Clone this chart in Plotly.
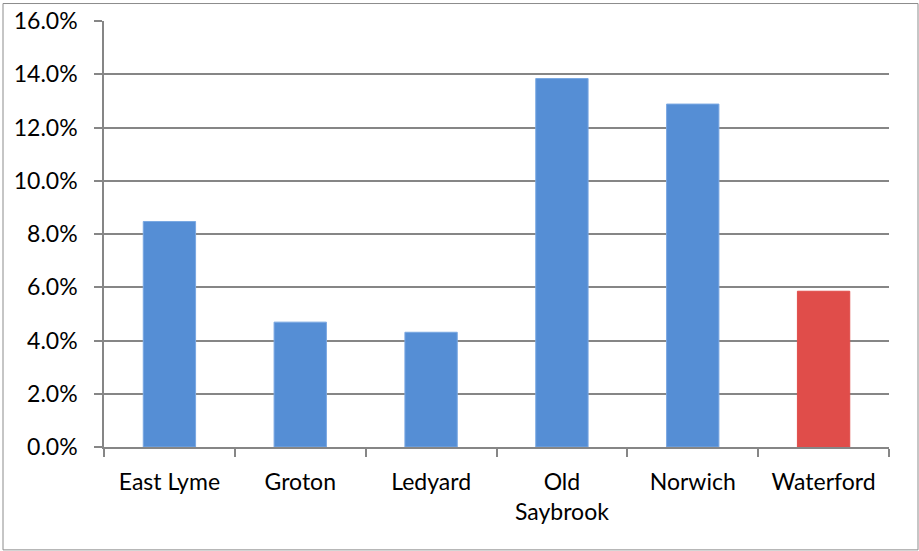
import plotly.graph_objects as go

towns = ["East Lyme", "Groton", "Ledyard", "Old<br>Saybrook", "Norwich", "Waterford"]
shares = [0.0847, 0.0469, 0.0431, 0.1384, 0.1288, 0.0585]
bar_colors = ["#558ed5", "#558ed5", "#558ed5", "#558ed5", "#558ed5", "#e04d4a"]
edge_colors = ["#7aa8e2", "#7aa8e2", "#7aa8e2", "#7aa8e2", "#7aa8e2", "#e04d4a"]

W, H = 919, 551
L, R, T, B = 104, 30, 20.5, 104
pw, ph = W - L - R, H - T - B

fig = go.Figure(
    go.Bar(
        x=towns,
        y=shares,
        marker=dict(color=bar_colors, line=dict(color=edge_colors, width=1)),
    )
)

axis_grey = "#868686"
font = dict(family="Lato, Open Sans, sans-serif", size=23, color="#000000")

fig.update_layout(
    width=W,
    height=H,
    margin=dict(l=L, r=R, t=T, b=B),
    paper_bgcolor="white",
    plot_bgcolor="white",
    bargap=0.6,
    showlegend=False,
    font=font,
    xaxis=dict(
        type="category",
        automargin=False,
        showline=True,
        linecolor=axis_grey,
        linewidth=1.5,
        ticks="outside",
        tickson="boundaries",
        ticklen=8,
        tickcolor=axis_grey,
        tickwidth=1.5,
        showgrid=False,
        tickfont=font,
        ticklabelstandoff=14,
    ),
    yaxis=dict(
        range=[0, 0.16],
        dtick=0.02,
        tickformat=".1%",
        automargin=False,
        showline=True,
        linecolor=axis_grey,
        linewidth=1.5,
        ticks="outside",
        ticklen=8,
        tickcolor=axis_grey,
        tickwidth=1.5,
        showgrid=True,
        gridcolor=axis_grey,
        gridwidth=1.5,
        zeroline=False,
        tickfont=font,
        ticklabelstandoff=12,
    ),
)

# Outer chart frame
fig.add_shape(
    type="rect",
    xref="paper",
    yref="paper",
    x0=(3 - L) / pw,
    x1=(918 - L) / pw,
    y0=(H - B - 550) / ph,
    y1=(H - B - 3) / ph,
    line=dict(color="#8c8c8c", width=1),
    fillcolor="rgba(0,0,0,0)",
    layer="below",
)

fig.write_html("out.html")
